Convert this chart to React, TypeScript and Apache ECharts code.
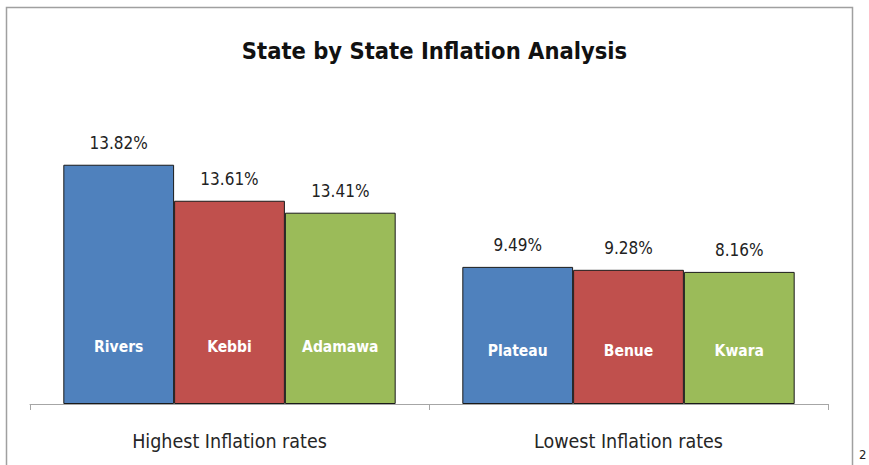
import React, { useEffect, useRef } from "react";
import * as echarts from "echarts";

const titleText = "State by State Inflation Analysis";
const categories = ["Highest Inflation rates", "Lowest Inflation rates"];
const seriesColors = ["#4F81BD", "#C0504D", "#9BBB59"];
const stateNames = [
  ["Rivers", "Plateau"],
  ["Kebbi", "Benue"],
  ["Adamawa", "Kwara"],
];
const rateLabels = [
  [13.82, 9.49],
  [13.61, 9.28],
  [13.41, 8.16],
];
// bar heights as drawn in the picture (same unit as the labels, Rivers as reference)
const barHeights = [
  [13.82, 7.92],
  [11.74, 7.75],
  [11.05, 7.63],
];

const NARROW = "'DejaVu Sans Condensed', 'Liberation Sans Narrow', sans-serif";

export default function App() {
  const ref = useRef<HTMLDivElement>(null);
  useEffect(() => {
    document.body.style.margin = "0";
    const chart = echarts.init(ref.current!, null, { renderer: "svg" });
    const barSeries: any[] = barHeights.map((vals, s) => ({
      type: "bar",
      xAxisIndex: 0,
      barGap: 0,
      barCategoryGap: "16.7%",
      itemStyle: { color: seriesColors[s], borderColor: "#1a1a1a", borderWidth: 1 },
      label: {
        show: true,
        position: "top",
        distance: 13,
        fontFamily: NARROW,
        fontSize: 17,
        color: "#222",
        formatter: (p: any) => rateLabels[s][p.dataIndex].toFixed(2) + "%",
      },
      data: vals,
    }));
    const nameSeries: any[] = barHeights.map((vals, s) => ({
      type: "bar",
      xAxisIndex: 1,
      barGap: 0,
      barCategoryGap: "16.7%",
      silent: true,
      itemStyle: { color: "rgba(0,0,0,0)" },
      data: vals.map((v, i) => ({
        value: v,
        label: {
          show: true,
          position: "insideBottom",
          distance: i === 0 ? 49 : 45,
          fontFamily: NARROW,
          fontWeight: "bold",
          fontSize: 15.5,
          color: "#fff",
          formatter: stateNames[s][i],
        },
      })),
    }));
    chart.setOption({
      animation: false,
      title: {
        text: titleText,
        left: "center",
        top: 34,
        textStyle: { fontFamily: NARROW, fontWeight: "bold", fontSize: 23.5, color: "#111" },
      },
      grid: { left: 30, right: 41, top: 127, bottom: 61 },
      xAxis: [
        {
          type: "category",
          data: categories,
          axisLine: { lineStyle: { color: "#a6a6a6", width: 1 } },
          axisTick: { show: true, length: 6, lineStyle: { color: "#a6a6a6" } },
          axisLabel: { fontFamily: NARROW, fontSize: 19.5, color: "#262626", margin: 27 },
        },
        { type: "category", data: categories, show: false },
      ],
      yAxis: { type: "value", min: 0, max: 16, show: false, splitLine: { show: false } },
      graphic: [
        {
          type: "rect",
          shape: { x: 6.5, y: 7.5, width: 846, height: 480 },
          style: { fill: "none", stroke: "#a0a0a0", lineWidth: 1.5 },
          silent: true,
        },
        {
          type: "text",
          x: 859,
          y: 448,
          style: { text: "2", fontFamily: NARROW, fontSize: 13, fill: "#222" },
          silent: true,
        },
      ],
      series: [...barSeries, ...nameSeries],
    });
    return () => chart.dispose();
  }, []);
  return <div ref={ref} style={{ width: 869, height: 465 }} />;
}
